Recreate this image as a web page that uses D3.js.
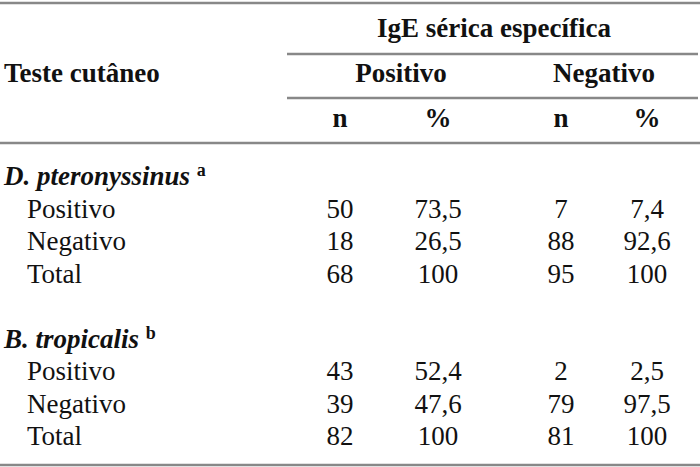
<!DOCTYPE html>
<html>
<head>
<meta charset="utf-8">
<script src="https://cdn.jsdelivr.net/npm/d3@7"></script>
<style>
  body { margin: 0; background: #fff; }
  text { font-family: "Liberation Serif", "Times New Roman", serif; fill: #111; }
</style>
</head>
<body>
<div id="table"></div>
<script>
// table data
var superHeader = "IgE sérica específica";
var stubHeader = "Teste cutâneo";
var groupHeaders = ["Positivo", "Negativo"];
var subHeaders = ["n", "%", "n", "%"];
var columns = ["posN", "posPct", "negN", "negPct"];

var allergens = ["D. pteronyssinus", "B. tropicalis"];
var footMarks = ["a", "b"];
var rowLabels = ["Positivo", "Negativo", "Total"];

var dptValues = [
    ["50", "73,5", "7", "7,4"],
    ["18", "26,5", "88", "92,6"],
    ["68", "100", "95", "100"]
];
var btrValues = [
    ["43", "52,4", "2", "2,5"],
    ["39", "47,6", "79", "97,5"],
    ["82", "100", "81", "100"]
];
var groupValues = [dptValues, btrValues];

var svgWidth = 700;
var svgHeight = 467;
var fontSize = 27;
var lineColor = "#888";

var svg = d3.select("#table")
    .append("svg")
    .attr("width", svgWidth)
    .attr("height", svgHeight);

// row keys for the body, with a blank spacer between groups
var rowKeys = [];
allergens.forEach(function(a, gi) {
    rowKeys.push("g" + gi);
    rowLabels.forEach(function(r, ri) { rowKeys.push("g" + gi + "r" + ri); });
    if (gi < allergens.length - 1) rowKeys.push("gap" + gi);
});

var yScale = d3.scalePoint()
    .domain(rowKeys)
    .range([185, 445]);

var xScale = d3.scaleOrdinal()
    .domain(columns)
    .range([340, 438, 561, 647]);

var groupX = d3.scaleOrdinal()
    .domain(groupHeaders)
    .range([401, 604]);

function addText(g, x, y, str, anchor, weight) {
    return g.append("text")
        .attr("x", x)
        .attr("y", y)
        .attr("text-anchor", anchor || "start")
        .attr("font-weight", weight || "normal")
        .attr("font-size", fontSize)
        .text(str);
}

// rules
var rules = [
    {x1: 0, x2: 700, y: 3},
    {x1: 287, x2: 698, y: 54},
    {x1: 287, x2: 698, y: 98},
    {x1: 0, x2: 700, y: 143},
    {x1: 0, x2: 700, y: 465}
];
svg.append("g").selectAll("line")
    .data(rules)
    .enter()
    .append("line")
    .attr("x1", d => d.x1)
    .attr("x2", d => d.x2)
    .attr("y1", d => d.y)
    .attr("y2", d => d.y)
    .attr("stroke", lineColor)
    .attr("stroke-width", 2.5);

// header
var head = svg.append("g");
addText(head, 4, 82, stubHeader, "start", "bold");
addText(head, 494, 37, superHeader, "middle", "bold");
groupHeaders.forEach(function(h) {
    addText(head, groupX(h), 82, h, "middle", "bold");
});
subHeaders.forEach(function(s, i) {
    addText(head, xScale(columns[i]), 127, s, "middle", "bold");
});

// body
var body = svg.append("g");
allergens.forEach(function(a, gi) {
    var y = yScale("g" + gi);
    var t = body.append("text")
        .attr("x", 4)
        .attr("y", y)
        .attr("font-size", fontSize)
        .attr("font-weight", "bold");
    t.append("tspan").attr("font-style", "italic").text(a + " ");
    t.append("tspan")
        .attr("font-size", 18)
        .attr("dy", -9)
        .text(footMarks[gi]);

    rowLabels.forEach(function(r, ri) {
        var ry = yScale("g" + gi + "r" + ri);
        addText(body, 27, ry, r, "start");
        groupValues[gi][ri].forEach(function(v, ci) {
            addText(body, xScale(columns[ci]), ry, v, "middle");
        });
    });
});
</script>
</body>
</html>
